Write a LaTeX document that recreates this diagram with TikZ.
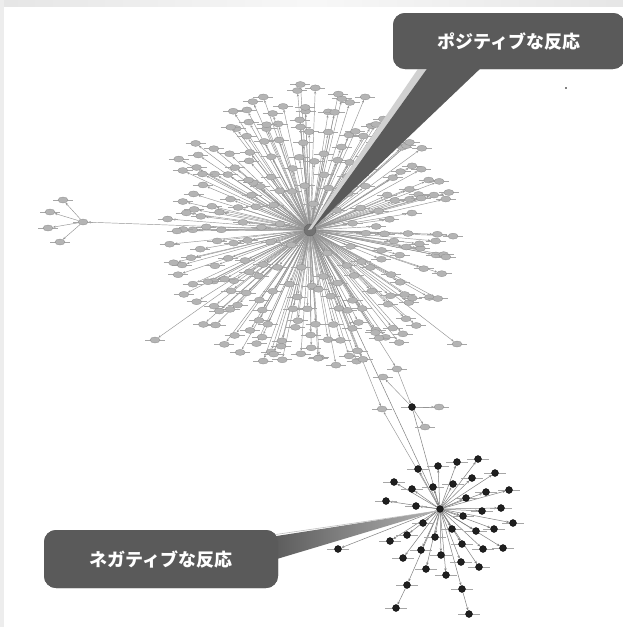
\documentclass[tikz,border=0pt]{standalone}
\usepackage{fontspec}
\newfontfamily\cjk{Noto Sans CJK JP}
\usetikzlibrary{arrows.meta,calc,shapes.geometric}
\definecolor{boxgray}{HTML}{5A5A5A}
\definecolor{nodegray}{HTML}{B4B4B4}
\begin{document}
\begin{tikzpicture}[x=1pt,y=-1pt,
  gshape/.style={ellipse,minimum width=10pt,minimum height=6pt,inner sep=0pt},
  gnode/.style={gshape,fill=nodegray,draw=black!45,line width=0.3pt},
  bshape/.style={circle,minimum size=7pt,inner sep=0pt},
  bnode/.style={bshape,fill=black!88,draw=black,line width=0.3pt},
  hubnode/.style={circle,fill=black!55,draw=black!65,minimum size=12pt,inner sep=0pt},
  gedge/.style={draw=black!42,line width=0.45pt,-{Stealth[length=2.6pt,width=2.2pt]}},
  bedge/.style={draw=black!50,line width=0.5pt,-{Stealth[length=3pt,width=2.4pt]}},
  lblmark/.style={draw=black!35,line width=0.6pt},
  callbox/.style={rectangle,rounded corners=12pt,fill=boxgray,text=white,inner sep=0pt,
    font=\cjk\bfseries\fontsize{18}{18}\selectfont}]
\useasboundingbox (0,0) rectangle (623,627);
\fill[white] (0,0) rectangle (623,627);
\shade[left color=black!10,right color=black!10,middle color=black!3] (0,0) rectangle (623,6);
\fill[black!7] (0,0) rectangle (4,627);

% ---- positions (invisible shapes) ----
\node[hubnode,draw=none,fill=none] (hub) at (310,230) {};
\pgfmathsetseed{11}
\foreach \i in {1,...,250}{
  \pgfmathsetmacro\ang{360*(\i*0.381966-floor(\i*0.381966))+rand*6}
  \pgfmathsetmacro\rad{18+128*sqrt((\i-0.5)/250)+rand*5}
  \node[gshape] (g\i) at ($(hub)+(\ang:\rad)$) {};
}
\node[gshape] (o1) at (155,340) {};
\node[gshape] (o2) at (457,344) {};
\node[gshape] (L) at (83,222) {};
\node[gshape] (L1) at (63,200) {};
\node[gshape] (L2) at (50,212) {};
\node[gshape] (L3) at (48,228) {};
\node[gshape] (L4) at (60,242) {};
\node[gshape] (c1) at (379,338) {};
\node[gshape] (c2) at (397,369) {};
\node[gshape] (c3) at (383,377) {};
\node[gshape] (c4) at (382,409) {};
\node[gshape] (c5) at (425,427) {};
\node[gshape] (c6) at (439,407) {};
\node[bshape] (b0) at (412,407) {};
\node[bshape] (bhub) at (440,509) {};
\foreach \x/\y [count=\k] in {418/469,438/466,457/462,478/459,495/473,394/482,412/489,433/487,453/484,472/478,
  486/492,509/490,466/498,386/501,416/506,482/511,501/508,513/523,463/516,423/523,452/529,476/531,494/529,
  390/541,407/535,435/537,462/544,483/549,503/548,421/550,441/555,403/558,426/569,461/562,479/567,446/575,
  407/585,462/589,338/549}{
  \node[bshape] (b\k) at (\x,\y) {};
}
\node[bshape] (bc1) at (396,608) {};
\node[bshape] (bc2) at (469,614) {};

% ---- edges ----
\foreach \i in {1,...,250}{ \draw[gedge] (hub) -- (g\i); }
\draw[gedge] (hub) -- (o1);
\draw[gedge] (hub) -- (o2);
\draw[gedge] (hub) -- (L);
\foreach \n in {L1,L2,L3,L4} \draw[gedge] (L) -- (\n);
\foreach \k in {1,...,39} \draw[bedge] (bhub) -- (b\k);
\draw[bedge] (b37) -- (bc1);
\draw[bedge] (b38) -- (bc2);
\draw[gedge] (hub) -- (c1);
\draw[gedge] (hub) -- (c2);
\draw[gedge] (b0) -- (c3);
\draw[gedge] (c2) -- (b0);
\draw[gedge] (bhub) -- (c4);
\draw[gedge] (hub) -- (c4);
\draw[gedge] (b0) -- (c5);
\draw[gedge] (b0) -- (c6);
\draw[bedge] (hub) -- (bhub);
\draw[bedge] (b0) -- (bhub);

% ---- visible nodes ----
\foreach \n in {g1,g2,g3,g4,g5}{}
\foreach \i in {1,...,250}{
  \draw[lblmark] ($(g\i)+(-10,0)$) -- ($(g\i)+(10,0)$);
  \node[gnode] at (g\i) {};
}
\foreach \n in {o1,o2,L,L1,L2,L3,L4,c1,c2,c3,c4,c5,c6}{
  \draw[lblmark] ($(\n)+(-10,0)$) -- ($(\n)+(10,0)$);
  \node[gnode] at (\n) {};
}
\foreach \n in {b0,bc1,bc2}{
  \draw[lblmark] ($(\n)+(-11,0)$) -- ($(\n)+(11,0)$);
  \node[bnode] at (\n) {};
}
\foreach \k in {1,...,39}{
  \draw[lblmark] ($(b\k)+(-11,0)$) -- ($(b\k)+(11,0)$);
  \node[bnode] at (b\k) {};
}
\node[hubnode] at (hub) {};
\node[bnode] at (bhub) {};

\fill[black] (566,88) circle (0.8);

% ---- callouts ----
\node[callbox,minimum width=232pt,minimum height=56pt] (pos) at (509,41) {ポジティブな反応};
\node[callbox,minimum width=234pt,minimum height=58pt] (neg) at (161,559) {ネガティブな反応};
\coordinate (pt1) at (312,229);
\coordinate (pt2) at (437,511);
\fill[black!18] ($(pos.south west)+(27,-3)$) -- ($(pos.south west)+(36,-3)$) -- (pt1) -- ($(pt1)+(-4,1)$) -- cycle;
\fill[boxgray] ($(pos.south west)+(36,-3)$) -- ($(pos.south west)+(90,-3)$) -- (pt1) -- cycle;
\foreach \dy in {-24,-21,-18,-15}{
  \draw[black!25,line width=0.6pt] ($(neg.east)+(-6,\dy)$) -- (pt2);
}
\shade[left color=boxgray,right color=black!30] ($(neg.east)+(-8,-22)$) -- (pt2) -- ($(neg.east)+(-8,2)$) -- cycle;
\node[callbox,minimum width=232pt,minimum height=56pt] at (pos) {ポジティブな反応};
\node[callbox,minimum width=234pt,minimum height=58pt] at (neg) {ネガティブな反応};
\end{tikzpicture}
\end{document}
